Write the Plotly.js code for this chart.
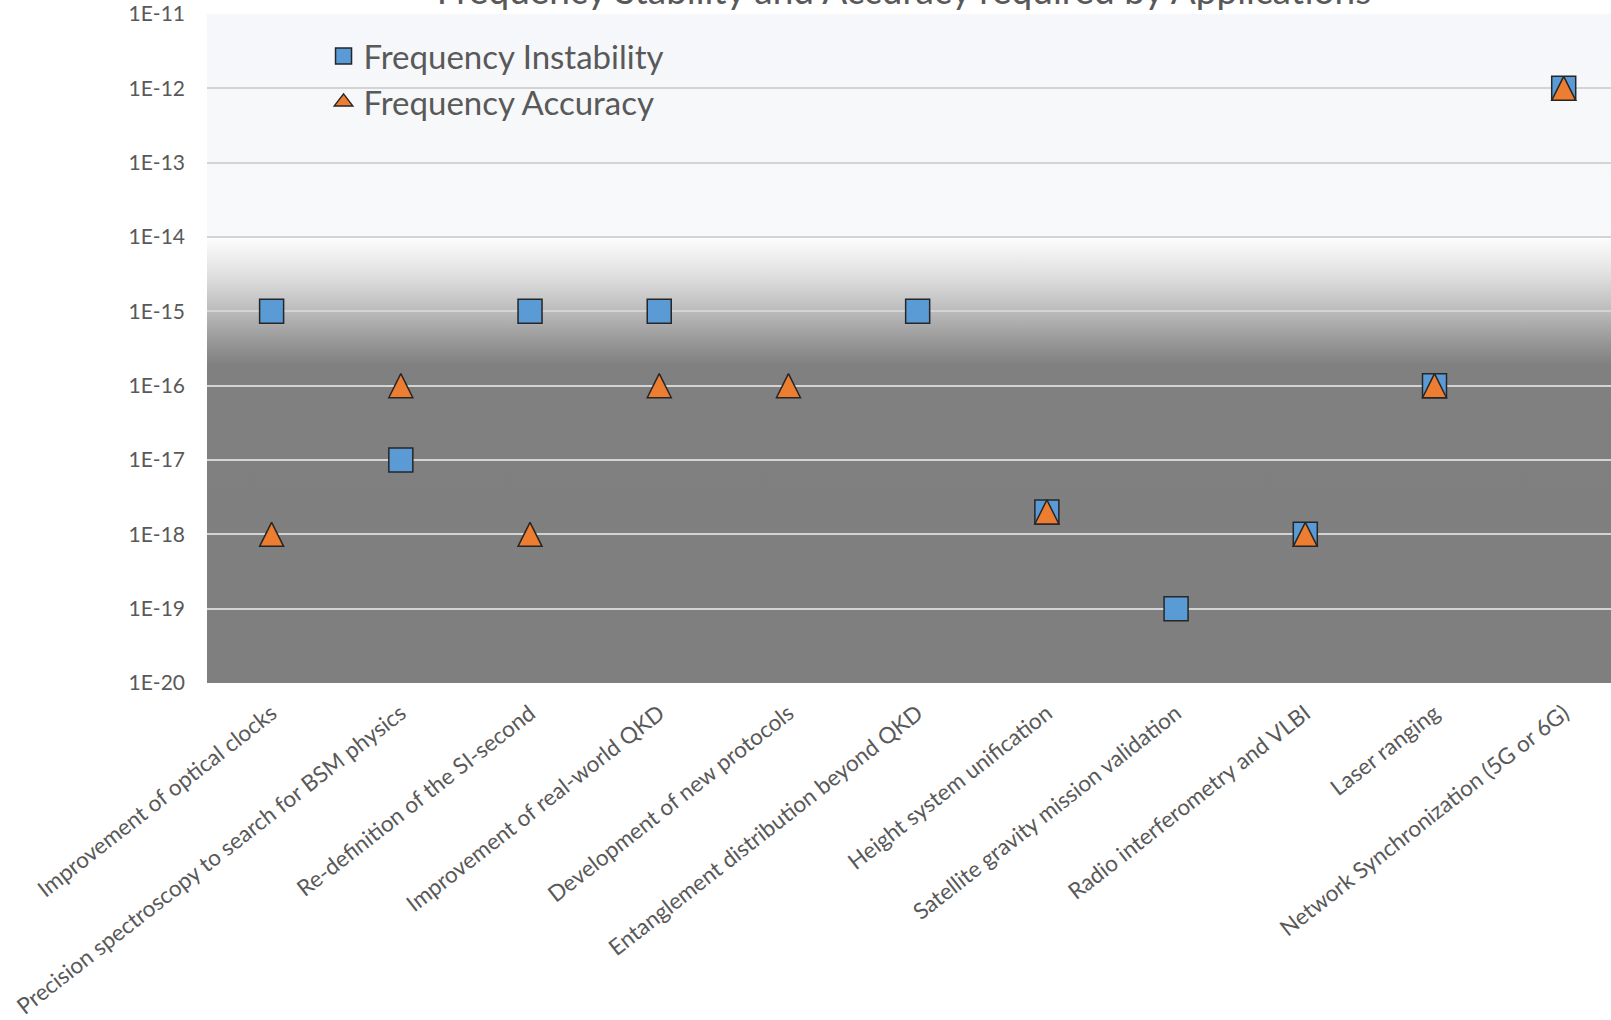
<!DOCTYPE html>
<html>
<head>
<meta charset="utf-8">
<script src="https://cdn.plot.ly/plotly-3.0.1.min.js"></script>
<style>
  html, body { margin: 0; padding: 0; background: #ffffff; }
  #chart { width: 1611px; height: 1020px; }
</style>
</head>
<body>
<div id="chart"></div>
<script>
// ---- data ----
const categories = [
  "Improvement of optical clocks",
  "Precision spectroscopy to search for BSM physics",
  "Re-definition of the SI-second",
  "Improvement of real-world QKD",
  "Development of new protocols",
  "Entanglement distribution beyond QKD",
  "Height system unification",
  "Satellite gravity mission validation",
  "Radio interferometry and VLBI",
  "Laser ranging",
  "Network Synchronization (5G or 6G)"
];
const instability = [1e-15, 1e-17, 1e-15, 1e-15, null, 1e-15, 2e-18, 1e-19, 1e-18, 1e-16, 1e-12];
const accuracy    = [1e-18, 1e-16, 1e-18, 1e-16, 1e-16, null, 2e-18, null, 1e-18, 1e-16, 1e-12];
const yTickVals = [1e-20, 1e-19, 1e-18, 1e-17, 1e-16, 1e-15, 1e-14, 1e-13, 1e-12, 1e-11];
const yTickText = ["1E-20", "1E-19", "1E-18", "1E-17", "1E-16", "1E-15", "1E-14", "1E-13", "1E-12", "1E-11"];
const seriesNames = ["Frequency Instability", "Frequency Accuracy"];
const chartTitle = "Frequency Stability and Accuracy required by Applications";

// ---- background gradient (plot area) ----
const gradSvg =
  '<svg xmlns="http://www.w3.org/2000/svg" width="100" height="900" viewBox="0 0 100 900" preserveAspectRatio="none">' +
  '<defs><linearGradient id="g" x1="0" y1="0" x2="0" y2="1">' +
  '<stop offset="0" stop-color="#F5F7FA"/>' +
  '<stop offset="0.333" stop-color="#F8F9FA"/>' +
  '<stop offset="0.334" stop-color="#FDFDFD"/>' +
  '<stop offset="0.39" stop-color="#E0E0E0"/>' +
  '<stop offset="0.444" stop-color="#BBBBBB"/>' +
  '<stop offset="0.49" stop-color="#979797"/>' +
  '<stop offset="0.525" stop-color="#808080"/>' +
  '<stop offset="1" stop-color="#7F7F7F"/>' +
  '</linearGradient></defs>' +
  '<rect x="0" y="0" width="100" height="900" fill="url(#g)"/></svg>';
const gradSrc = 'data:image/svg+xml;utf8,' + encodeURIComponent(gradSvg);

const FONT = 'Lato, "Open Sans", sans-serif';
const TXT = '#595959';
const BLUE = '#5B9BD5', ORANGE = '#ED7D31', EDGE = '#262626';

const traces = [
  {
    type: 'scatter', mode: 'markers',
    name: seriesNames[0],
    x: categories, y: instability,
    marker: { symbol: 'square', size: 24, color: BLUE, line: { color: EDGE, width: 1.5 } },
    cliponaxis: false
  },
  {
    type: 'scatter', mode: 'markers',
    name: seriesNames[1], showlegend: false,
    x: categories, y: accuracy,
    marker: { symbol: 'arrow-down', angle: 180, standoff: 12, size: 24, color: ORANGE, line: { color: EDGE, width: 1.5 } },
    cliponaxis: false
  },
  {
    // legend entry for the accuracy series (no marks drawn)
    type: 'scatter', mode: 'markers',
    name: seriesNames[1],
    x: [null], y: [null],
    marker: { symbol: 'triangle-up', size: 24, color: ORANGE, line: { color: EDGE, width: 1.5 } }
  }
];

const layout = {
  width: 1611, height: 1020,
  margin: { l: 207, r: 0, t: 14, b: 337, pad: 0 },
  paper_bgcolor: '#ffffff',
  plot_bgcolor: 'rgba(0,0,0,0)',
  font: { family: FONT, color: TXT },
  title: {
    text: chartTitle,
    font: { family: FONT, size: 37, color: TXT },
    xref: 'container', x: 904 / 1611, xanchor: 'center',
    yref: 'container', y: 1 - 4 / 1020, yanchor: 'bottom'
  },
  showlegend: true,
  legend: {
    x: 0.083, xanchor: 'left', y: 0.979, yanchor: 'top',
    bgcolor: 'rgba(0,0,0,0)',
    font: { family: FONT, size: 33, color: TXT }
  },
  xaxis: {
    type: 'category',
    range: [-0.5, 10.366],
    showgrid: false, zeroline: false, showline: false,
    ticks: '',
    tickangle: -38,
    tickfont: { family: FONT, size: 22.5, color: TXT },
    ticklabelstandoff: 12,
    fixedrange: true
  },
  yaxis: {
    type: 'log',
    range: [-20, -11],
    tickvals: yTickVals,
    ticktext: yTickText,
    showgrid: true, gridcolor: '#D4D4D4', gridwidth: 2,
    zeroline: false, showline: false,
    ticks: '',
    tickfont: { family: FONT, size: 21, color: TXT },
    ticklabelstandoff: 21,
    fixedrange: true
  },
  images: [{
    source: gradSrc,
    xref: 'paper', yref: 'paper',
    x: 0, y: 1, sizex: 1, sizey: 1,
    xanchor: 'left', yanchor: 'top',
    sizing: 'stretch', layer: 'below'
  }]
};

Plotly.newPlot('chart', traces, layout, { displayModeBar: false, staticPlot: true });
</script>
</body>
</html>
